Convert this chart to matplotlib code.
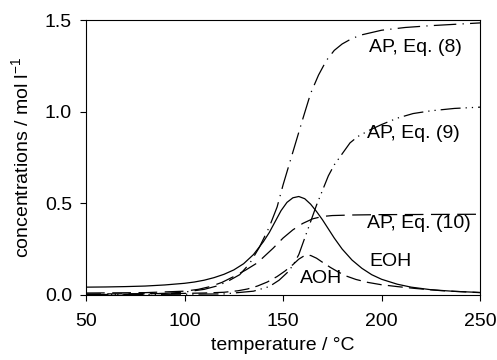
import matplotlib
matplotlib.use("Agg")
import matplotlib.pyplot as plt

plt.rcParams['font.family'] = ['Liberation Sans', 'DejaVu Sans']
plt.rcParams['mathtext.fontset'] = 'custom'
plt.rcParams['mathtext.rm'] = 'Liberation Sans'
plt.rcParams['mathtext.it'] = 'Liberation Sans'

# values
t_eoh = [50, 60, 70, 80, 90, 100, 105, 110, 115, 120, 125, 130, 135, 140, 143, 146, 149, 152, 155, 158,
         161, 164, 167, 170, 173, 176, 180, 185, 190, 195, 200, 208, 215, 225, 237, 250]
eoh = [0.042, 0.043, 0.045, 0.048, 0.054, 0.063, 0.07, 0.08, 0.094, 0.112, 0.136, 0.17, 0.22, 0.29, 0.34,
       0.4, 0.46, 0.505, 0.53, 0.537, 0.525, 0.495, 0.455, 0.41, 0.36, 0.31, 0.25, 0.19, 0.145, 0.11,
       0.085, 0.058, 0.042, 0.028, 0.019, 0.013]

t_aoh = [50, 80, 100, 110, 120, 127, 132, 137, 142, 147, 151, 155, 158, 161, 164, 167, 170, 174, 178,
         182, 187, 193, 200, 208, 217, 230, 250]
aoh = [0.005, 0.006, 0.008, 0.01, 0.014, 0.022, 0.032, 0.048, 0.07, 0.1, 0.13, 0.165, 0.195, 0.215,
       0.215, 0.2, 0.178, 0.15, 0.125, 0.103, 0.084, 0.068, 0.055, 0.045, 0.035, 0.023, 0.012]

t_eq8 = [50, 90, 100, 110, 117, 123, 128, 133, 138, 143, 147, 150, 155, 160, 164, 168, 172, 176, 180,
         185, 190, 200, 212, 225, 250]
eq8 = [0.0, 0.008, 0.015, 0.03, 0.05, 0.08, 0.11, 0.17, 0.26, 0.37, 0.48, 0.6, 0.78, 0.96, 1.1, 1.2,
       1.28, 1.335, 1.37, 1.4, 1.42, 1.445, 1.46, 1.47, 1.485]

t_eq9 = [50, 120, 135, 143, 148, 152, 155, 158, 161, 164, 167, 170, 173, 176, 180, 184, 188, 194, 200,
         208, 216, 225, 237, 250]
eq9 = [0.0, 0.005, 0.02, 0.045, 0.08, 0.12, 0.16, 0.22, 0.31, 0.4, 0.49, 0.57, 0.65, 0.71, 0.77, 0.83,
       0.865, 0.9, 0.93, 0.965, 0.99, 1.005, 1.018, 1.025]

t_eq10 = [50, 80, 100, 107, 113, 119, 125, 131, 137, 141, 145, 150, 155, 160, 165, 170, 175, 185, 200, 250]
eq10 = [0.01, 0.012, 0.02, 0.03, 0.045, 0.068, 0.1, 0.135, 0.175, 0.215, 0.255, 0.31, 0.355, 0.39,
        0.415, 0.428, 0.433, 0.436, 0.438, 0.44]

labels = ['AP, Eq. (8)', 'AP, Eq. (9)', 'AP, Eq. (10)', 'EOH', 'AOH']
label_x = [193.5, 192.5, 192.5, 194, 158.5]
label_y = [1.35, 0.88, 0.387, 0.182, 0.087]

fig = plt.figure(figsize=(4.97, 3.6), dpi=100)
ax = fig.add_axes([0.173, 0.181, 0.793, 0.763])

lw = 0.9
ax.plot(t_eoh, eoh, color='black', lw=lw, ls='-')
ax.plot(t_aoh, aoh, color='black', lw=lw, ls=(0, (12, 5)))
ax.plot(t_eq8, eq8, color='black', lw=lw, ls=(0, (18, 5, 1, 5)))
ax.plot(t_eq9, eq9, color='black', lw=lw, ls=(0, (16, 4, 1, 4, 1, 4)))
ax.plot(t_eq10, eq10, color='black', lw=lw, ls=(0, (15, 6)))

fs = 14
for s, x, y in zip(labels, label_x, label_y):
    ax.text(x, y, s, fontsize=fs, va='center', ha='left')

ax.set_xlim(50, 250)
ax.set_ylim(0, 1.5)
ax.set_xticks([50, 100, 150, 200, 250])
ax.set_yticks([0.0, 0.5, 1.0, 1.5])
ax.set_yticklabels(['0.0', '0.5', '1.0', '1.5'])
ax.tick_params(direction='out', length=4, width=0.8, labelsize=fs)
ax.tick_params(axis='x', pad=9)
ax.tick_params(axis='y', pad=6)
for sp in ax.spines.values():
    sp.set_linewidth(0.8)

ax.set_xlabel('temperature / °C', fontsize=fs, labelpad=5)
ax.set_ylabel('concentrations / mol l$^{-1}$', fontsize=fs, labelpad=9)

fig.savefig('out.png', dpi=100)
